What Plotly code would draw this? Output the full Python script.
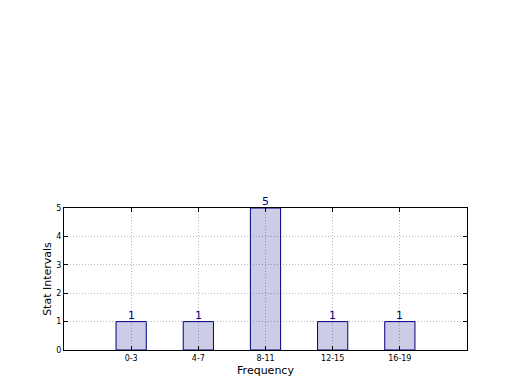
import plotly.graph_objects as go

categories = ["0-3", "4-7", "8-11", "12-15", "16-19"]
values = [1, 1, 5, 1, 1]
positions = [0, 1, 2, 3, 4]
y_ticks = [0, 1, 2, 3, 4, 5]

fig = go.Figure(go.Bar(
    x=positions, y=values, width=0.45,
    marker=dict(color="rgba(0,0,128,0.2)", line=dict(color="#000080", width=1)),
    cliponaxis=False,
))

for xp, v in zip(positions, values):
    fig.add_annotation(
        x=xp, y=v, text=str(v), showarrow=False, yanchor="bottom", yshift=-2,
        font=dict(color="#000080", size=11, family="DejaVu Sans"),
    )

grid = dict(showgrid=True, gridcolor="#b8b8b8", griddash="1px,2px", gridwidth=1)

fig.update_layout(
    width=520, height=390,
    margin=dict(l=64, r=53, t=208, b=40),
    paper_bgcolor="white", plot_bgcolor="white",
    font=dict(family="DejaVu Sans", color="black"),
    showlegend=False,
    xaxis=dict(
        range=[-1, 5], tickvals=positions, ticktext=categories,
        tickfont=dict(size=8), ticks="inside", ticklen=4, tickcolor="black",
        showline=True, linecolor="black", linewidth=1, mirror="allticks",
        layer="above traces", zeroline=False,
        title=dict(text="Frequency", font=dict(size=11), standoff=4),
        **grid,
    ),
    yaxis=dict(
        range=[0, 5], tickvals=y_ticks,
        tickfont=dict(size=8), ticks="inside", ticklen=4, tickcolor="black",
        showline=True, linecolor="black", linewidth=1, mirror="allticks",
        layer="above traces", zeroline=False,
        title=dict(text="Stat Intervals", font=dict(size=11), standoff=2),
        **grid,
    ),
)

fig.write_html("out.html")
